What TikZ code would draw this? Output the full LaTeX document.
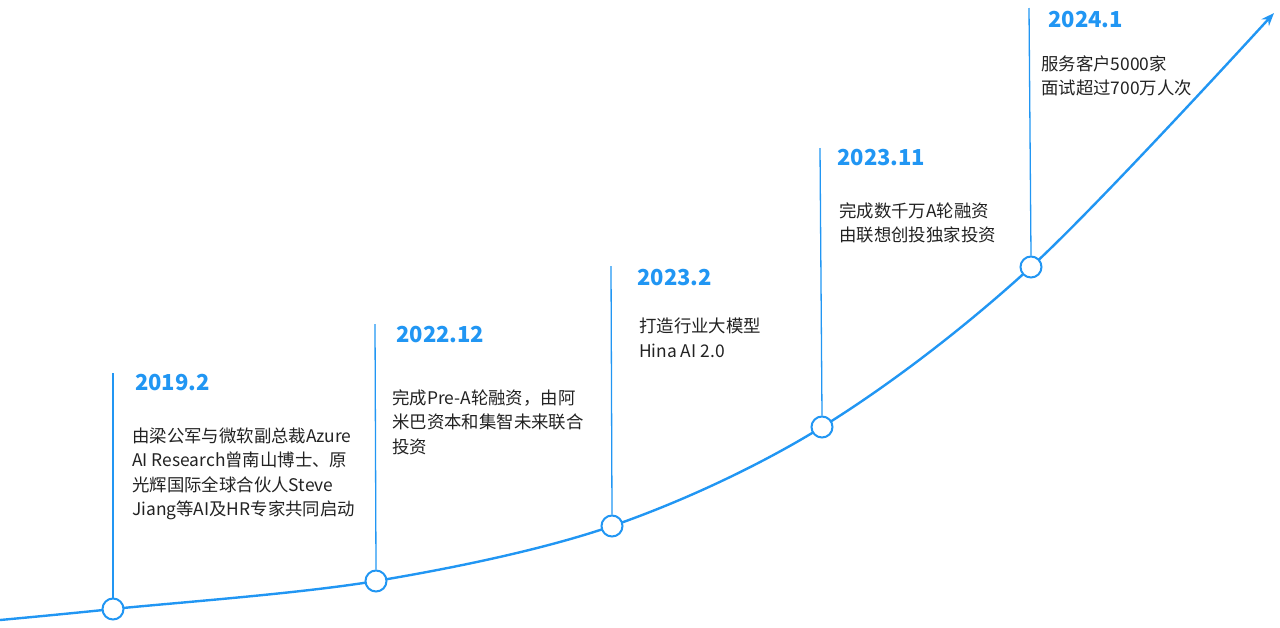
\documentclass[tikz,border=0pt]{standalone}
\usepackage{fontspec}
\setmainfont{Noto Sans CJK SC}
\usetikzlibrary{arrows.meta}
\definecolor{lineblue}{RGB}{33,150,243}
\definecolor{txtgray}{RGB}{34,34,34}

\begin{document}
\begin{tikzpicture}[x=1pt,y=-1pt,
	milestone/.style={circle,draw=lineblue,fill=white,line width=2pt,minimum size=21pt,inner sep=0pt},
	stem/.style={draw=lineblue,line width=1.3pt},
	year/.style={anchor=west,inner sep=0pt,text=lineblue,font=\fontsize{22}{26}\selectfont\bfseries},
	note/.style={anchor=west,inner sep=0pt,align=left,text=txtgray,font=\fontsize{17.4}{24.5}\selectfont}]
	
	\useasboundingbox (0,0) rectangle (1280,627);
	
	% points of the growth curve
	\coordinate (start) at (0,620);
	\coordinate (p1) at (113,609);
	\coordinate (p2) at (376,581);
	\coordinate (p3) at (612,526);
	\coordinate (p4) at (822,427);
	\coordinate (p5) at (1031,267);
	\coordinate (tip) at (1274,13);
	
	\draw[lineblue,line width=2.4pt,-{Stealth[length=13pt,width=10pt]}]
		plot[smooth,tension=0.55] coordinates {(start) (p1) (p2) (p3) (p4) (p5) (tip)};
	
	% top ends of the stems
	\coordinate (t1) at (113,373);
	\coordinate (t2) at (375,324);
	\coordinate (t3) at (611,266);
	\coordinate (t4) at (820,148);
	\coordinate (t5) at (1029,8);
	
	\node[milestone] (m1) at (p1) {};
	\node[milestone] (m2) at (p2) {};
	\node[milestone] (m3) at (p3) {};
	\node[milestone] (m4) at (p4) {};
	\node[milestone] (m5) at (p5) {};
	
	\draw[stem] (m1.north) -- (t1);
	\draw[stem] (m2.north) -- (t2);
	\draw[stem] (m3.north) -- (t3);
	\draw[stem] (m4.north) -- (t4);
	\draw[stem] (m5.north) -- (t5);
	
	\node[year] (y1) at (135,383) {2019.2};
	\node[note] (n1) at (132,474) {由梁公军与微软副总裁Azure\\AI Research曾南山博士、原\\光辉国际全球合伙人Steve\\Jiang等AI及HR专家共同启动};
	
	\node[year] (y2) at (396,335) {2022.12};
	\node[note] (n2) at (392,422) {完成Pre-A轮融资，由阿\\米巴资本和集智未来联合\\投资};
	
	\node[year] (y3) at (637,278) {2023.2};
	\node[note] (n3) at (639,338) {打造行业大模型\\Hina AI 2.0};
	
	\node[year] (y4) at (837,158) {2023.11};
	\node[note] (n4) at (839,223) {完成数千万A轮融资\\由联想创投独家投资};
	
	\node[year] (y5) at (1048,20) {2024.1};
	\node[note] (n5) at (1041,76) {服务客户5000家\\面试超过700万人次};
	
\end{tikzpicture}
\end{document}
